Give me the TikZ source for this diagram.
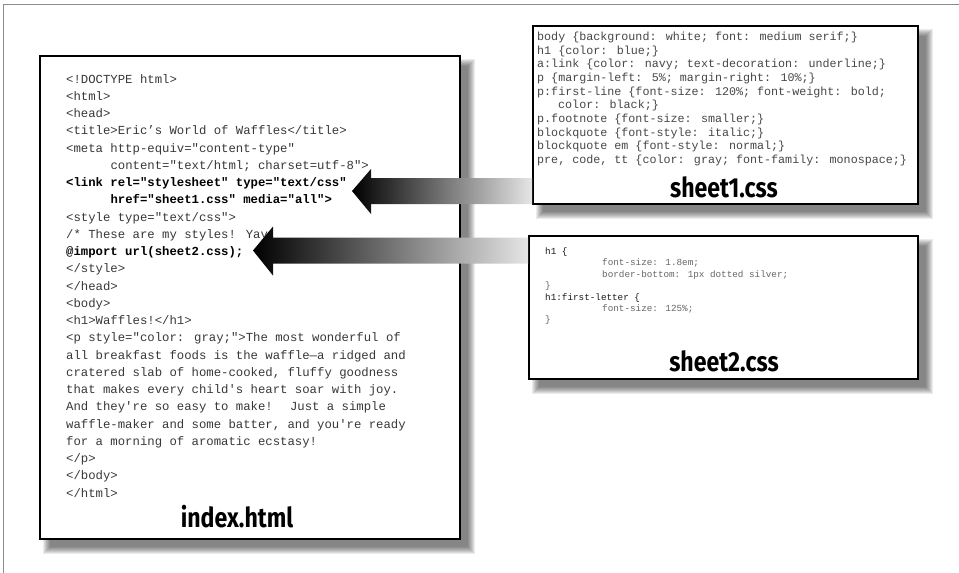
\documentclass[tikz,border=0pt]{standalone}
\usepackage{fontspec}
\newfontfamily\codefont{Liberation Mono}
\newfontfamily\labelfont{Fira Sans}
\usetikzlibrary{calc}
\tikzset{
  docbox/.style={draw=black, line width=2pt, fill=white, inner sep=0pt},
  codetxt/.style={anchor=base west, inner sep=0pt, text=black!78,
    font=\codefont\fontsize{12.3}{14}\selectfont},
  codebold/.style={codetxt, text=black, font=\codefont\bfseries\fontsize{12.3}{14}\selectfont},
  csstxt/.style={anchor=base west, inner sep=0pt, text=black!72,
    font=\codefont\fontsize{11.7}{13}\selectfont},
  smalltxt/.style={anchor=base west, inner sep=0pt, text=black!60,
    font=\codefont\fontsize{9.3}{11}\selectfont},
  smalldark/.style={smalltxt, text=black!90},
  filelabel/.style={inner sep=0pt, text=black, font=\labelfont\bfseries\fontsize{27.5}{30}\selectfont},
  bigarrow/.style={left color=black, right color=black!10},
  framelin/.style={draw=black!45, line width=0.8pt}
}
\newcommand{\softshadow}[4]{%
  \foreach \k in {0,...,7}{%
    \fill[black, opacity=0.08] ({#1+4+\k},{#2+4+\k}) rectangle ({#3+16-\k},{#4+16-\k});
  }%
}
\newcommand{\codeln}[4][codetxt]{\node[#1] (#2) at (66,#3) {#4};}
\begin{document}
\begin{tikzpicture}[x=1pt,y=-1pt]
\useasboundingbox (0,0) rectangle (959,573);
% partial outer frame
\coordinate (fbl) at (3,573);
\coordinate (ftl) at (3,4);
\coordinate (ftr) at (959,4);
\draw[framelin] (fbl) -- (ftl) -- (ftr);

% shadows
\softshadow{39}{55}{459}{538}
\softshadow{532}{25}{917}{203}
\softshadow{528}{235}{917}{378}

% boxes
\node[docbox, anchor=north west, minimum width=420pt, minimum height=483pt] (index) at (39,55) {};
\node[docbox, anchor=north west, minimum width=385pt, minimum height=178pt] (sheet1) at (532,25) {};
\node[docbox, anchor=north west, minimum width=389pt, minimum height=143pt] (sheet2) at (528,235) {};

% index.html code
\codeln{l1}{83}{<!DOCTYPE html>}
\codeln{l2}{100.25}{<html>}
\codeln{l3}{117.5}{<head>}
\codeln{l4}{134.75}{<title>Eric’s World of Waffles</title>}
\codeln{l5}{152}{<meta http-equiv="content-type"}
\node[codetxt] (l6) at (110.3,169.25) {content="text/html; charset=utf-8">};
\codeln[codebold]{l7}{186.5}{<link rel="stylesheet" type="text/css"}
\node[codebold] (l8) at (110.3,203.75) {href="sheet1.css" media="all">};
\codeln{l9}{221}{<style type="text/css">}
\codeln{l10}{238.25}{/* These are my styles! Yay}
\codeln[codebold]{l11}{255.5}{@import url(sheet2.css);}
\codeln{l12}{272.75}{</style>}
\codeln{l13}{290}{</head>}
\codeln{l14}{307.25}{<body>}
\codeln{l15}{324.5}{<h1>Waffles!</h1>}
\codeln{l16}{341.75}{<p style="color: gray;">The most wonderful of}
\codeln{l17}{359}{all breakfast foods is the waffle—a ridged and}
\codeln{l18}{376.25}{cratered slab of home-cooked, fluffy goodness}
\codeln{l19}{393.5}{that makes every child's heart soar with joy.}
\codeln{l20}{410.75}{And they're so easy to make! \ Just a simple}
\codeln{l21}{428}{waffle-maker and some batter, and you're ready}
\codeln{l22}{445.25}{for a morning of aromatic ecstasy!}
\codeln{l23}{462.5}{</p>}
\codeln{l24}{479.75}{</body>}
\codeln{l25}{497}{</html>}
\node[filelabel] (lbindex) at (237,516.5) {\scalebox{0.84}[1]{index.html}};

% sheet1.css
\node[csstxt] (s1) at (537,40.5) {body \{background: white; font: medium serif;\}};
\node[csstxt] (s2) at (537,54.17) {h1 \{color: blue;\}};
\node[csstxt] (s3) at (537,67.84) {a:link \{color: navy; text-decoration: underline;\}};
\node[csstxt] (s4) at (537,81.51) {p \{margin-left: 5\%; margin-right: 10\%;\}};
\node[csstxt] (s5) at (537,95.18) {p:first-line \{font-size: 120\%; font-weight: bold;};
\node[csstxt] (s6) at (558,108.85) {color: black;\}};
\node[csstxt] (s7) at (537,122.52) {p.footnote \{font-size: smaller;\}};
\node[csstxt] (s8) at (537,136.19) {blockquote \{font-style: italic;\}};
\node[csstxt] (s9) at (537,149.86) {blockquote em \{font-style: normal;\}};
\node[csstxt] (s10) at (537,163.53) {pre, code, tt \{color: gray; font-family: monospace;\}};
\node[filelabel] (lbs1) at (724,187.5) {\scalebox{0.84}[1]{sheet1.css}};

% sheet2.css
\node[smalldark] (t1) at (545,254.5) {h1 \{};
\node[smalltxt] (t2) at (602,265.9) {font-size: 1.8em;};
\node[smalltxt] (t3) at (602,277.3) {border-bottom: 1px dotted silver;};
\node[smalltxt] (t4) at (545,288.7) {\}};
\node[smalldark] (t5) at (545,300.1) {h1:first-letter \{};
\node[smalltxt] (t6) at (602,311.5) {font-size: 125\%;};
\node[smalltxt] (t7) at (545,322.9) {\}};
\node[filelabel] (lbs2) at (724,361.5) {\scalebox{0.84}[1]{sheet2.css}};

% arrows
\coordinate (tip1) at (352,191);
\coordinate (tip2) at (253,250.5);
\shade[bigarrow] (tip1) -- ($(tip1)+(19,-22)$) -- ($(tip1)+(19,-13)$)
  -- ($(sheet1.west |- tip1)+(0,-13)$) -- ($(sheet1.west |- tip1)+(0,13)$)
  -- ($(tip1)+(19,13)$) -- ($(tip1)+(19,23)$) -- cycle;
\shade[bigarrow] (tip2) -- ($(tip2)+(20,-24)$) -- ($(tip2)+(20,-13)$)
  -- ($(sheet2.west |- tip2)+(0,-13)$) -- ($(sheet2.west |- tip2)+(0,13)$)
  -- ($(tip2)+(20,13)$) -- ($(tip2)+(20,25)$) -- cycle;
\end{tikzpicture}
\end{document}
